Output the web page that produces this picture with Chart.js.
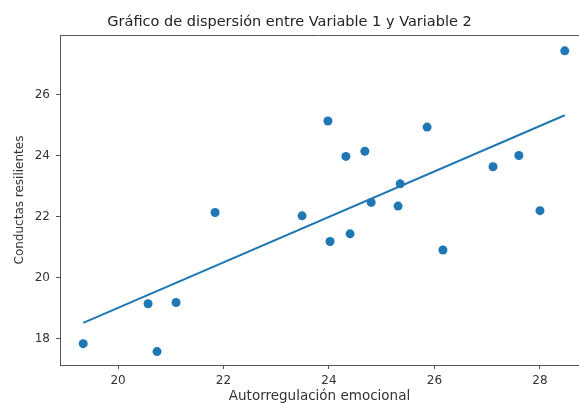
<!DOCTYPE html>
<html><head><meta charset="utf-8">
<script src="https://cdn.jsdelivr.net/npm/chart.js@4"></script>
<style>html,body{margin:0;padding:0;background:#fff;overflow:hidden}</style>
</head><body>
<canvas id="c" width="579" height="403"></canvas>
<script>
// Data
const xValues = [19.34, 20.57, 20.74, 21.10, 21.84, 23.49, 23.98, 24.02, 24.32, 24.40, 24.68, 24.80, 25.35, 25.31, 25.86, 26.16, 27.11, 27.60, 28.00, 28.47];
const yValues = [17.84, 19.15, 17.58, 19.19, 22.14, 22.03, 25.14, 21.19, 23.98, 21.44, 24.15, 22.47, 23.08, 22.35, 24.94, 20.91, 23.64, 24.01, 22.20, 27.44];
// Regression line end points as drawn
const fitX = [19.34, 28.47];
const fitY = [18.52, 25.33];
const xTicks = [20, 22, 24, 26, 28];
const yTicks = [18, 20, 22, 24, 26];
const xRange = [18.90, 28.74];
const yRange = [17.14, 27.96];

const title = 'Gráfico de dispersión entre Variable 1 y Variable 2';
const xLabel = 'Autorregulación emocional';
const yLabel = 'Conductas resilientes';

const blue = '#1f77b4';
const spine = '#555555';
const FONT = "'DejaVu Sans', sans-serif";

const scatterData = xValues.map((x, i) => ({x: x, y: yValues[i]}));
const fitData = fitX.map((x, i) => ({x: x, y: fitY[i]}));

const topSpine = {
  id: 'topSpine',
  afterDraw(chart) {
    const {ctx, chartArea} = chart;
    ctx.save();
    ctx.strokeStyle = spine;
    ctx.lineWidth = 1;
    ctx.beginPath();
    ctx.moveTo(chartArea.left, chartArea.top + 0.5);
    ctx.lineTo(chartArea.right, chartArea.top + 0.5);
    ctx.stroke();
    ctx.restore();
  }
};

new Chart(document.getElementById('c'), {
  type: 'scatter',
  data: {
    datasets: [
      {
        data: scatterData,
        backgroundColor: blue,
        borderColor: blue,
        pointRadius: 4.5,
        pointHoverRadius: 4.5,
        borderWidth: 0
      },
      {
        data: fitData,
        showLine: true,
        borderColor: blue,
        borderWidth: 2,
        pointRadius: 0,
        fill: false
      }
    ]
  },
  options: {
    responsive: false,
    animation: false,
    devicePixelRatio: 1,
    layout: {padding: 0, autoPadding: false},
    plugins: {
      legend: {display: false},
      tooltip: {enabled: false},
      title: {
        display: true,
        text: title,
        color: '#222',
        font: {family: FONT, size: 14.5, weight: 'normal', lineHeight: 1.2},
        padding: {top: 14, bottom: 3.6}
      }
    },
    scales: {
      x: {
        type: 'linear',
        min: xRange[0],
        max: xRange[1],
        afterBuildTicks: s => { s.ticks = xTicks.map(v => ({value: v})); },
        afterFit: s => { s.height = 38; s.paddingLeft = 0; s.paddingRight = 0; },
        grid: {display: true, drawOnChartArea: false, drawTicks: true, tickLength: 4, tickColor: spine},
        border: {display: true, color: spine, width: 1},
        ticks: {color: '#333', padding: 5, font: {family: FONT, size: 12}},
        title: {display: true, text: xLabel, color: '#333', padding: {top: 0, bottom: 0}, font: {family: FONT, size: 13.5, lineHeight: 1}}
      },
      y: {
        type: 'linear',
        min: yRange[0],
        max: yRange[1],
        afterBuildTicks: s => { s.ticks = yTicks.map(v => ({value: v})); },
        afterFit: s => { s.width = 60; },
        grid: {display: true, drawOnChartArea: false, drawTicks: true, tickLength: 4, tickColor: spine},
        border: {display: true, color: spine, width: 1},
        ticks: {color: '#333', padding: 6, font: {family: FONT, size: 12}},
        title: {display: true, text: yLabel, color: '#333', padding: {top: 14, bottom: 0}, font: {family: FONT, size: 12, lineHeight: 1}}
      }
    }
  },
  plugins: [topSpine]
});
</script>
</body></html>
